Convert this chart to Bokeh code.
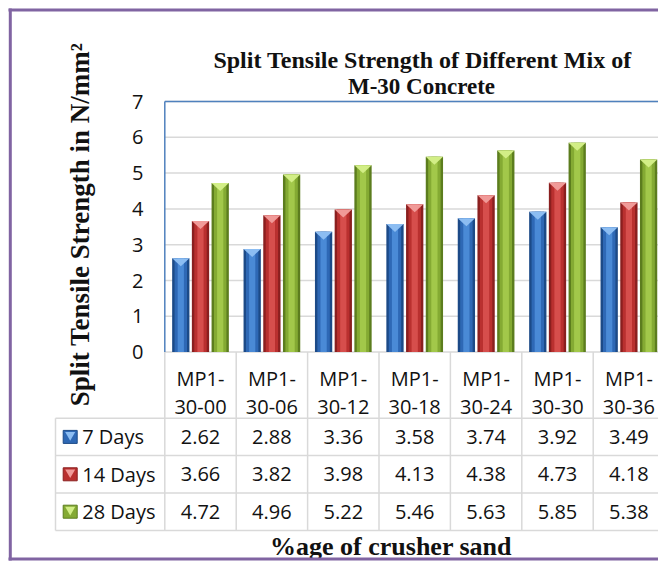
import math
from bokeh.plotting import figure
from bokeh.models import Range1d, ColumnDataSource
from bokeh.embed import file_html
from bokeh.resources import INLINE
from bokeh.core.properties import value

# ---- data ----
categories = ["MP1-30-00", "MP1-30-06", "MP1-30-12", "MP1-30-18",
              "MP1-30-24", "MP1-30-30", "MP1-30-36"]
series_names = ["7 Days", "14 Days", "28 Days"]
days_7 = [2.62, 2.88, 3.36, 3.58, 3.74, 3.92, 3.49]
days_14 = [3.66, 3.82, 3.98, 4.13, 4.38, 4.73, 4.18]
days_28 = [4.72, 4.96, 5.22, 5.46, 5.63, 5.85, 5.38]
y_ticks = [0, 1, 2, 3, 4, 5, 6, 7]
title_lines = ["Split Tensile Strength of Different Mix of", "M-30 Concrete"]
y_title = "Split Tensile Strength in N/mm\u00b2"
x_title = "%age of crusher sand"

series_values = [days_7, days_14, days_28]

# ---- styles ----
PURPLE = "#8064A2"
FRAME_BLUE = "#4F81BD"
GRID = "#D9D9D9"
TEXT = "#111111"
palettes = [
    dict(edge="#1C4A87", mid="#2E68B5", light="#4A8AD6", top="#8CBDF2"),
    dict(edge="#8A1F1F", mid="#B9302F", light="#D64E4C", top="#F09A98"),
    dict(edge="#5C7D1E", mid="#84AA33", light="#A2C84A", top="#D2EE86"),
]
SANS = "Open Sans"
SERIF = "Liberation Serif"

# ---- layout geometry (canvas pixels -> data units) ----
W, H = 658, 561
PX_X0, PX_PER_CAT = 164.3, 71.4     # x of category 0 boundary, width of one category
PX_Y0, PX_PER_UNIT = 351.6, 35.8    # y of value 0, pixels per N/mm2


def dx(px):
    return (px - PX_X0) / PX_PER_CAT


def dy(py):
    return (PX_Y0 - py) / PX_PER_UNIT


n = len(categories)
centers = [i + 0.5 for i in range(n)]
bar_w = 0.242
offsets = [-0.276, 0.0, 0.276]
tip = 8 / PX_PER_UNIT
x_end = dx(W)
y_top = y_ticks[-1]

p = figure(width=W, height=H, x_range=Range1d(dx(0), dx(W)), y_range=Range1d(dy(H), dy(0)),
           output_backend="svg", toolbar_location=None, x_axis_type=None, y_axis_type=None,
           min_border=0, min_border_left=0, min_border_right=0, min_border_top=0,
           min_border_bottom=0)
p.outline_line_color = None
p.background_fill_color = "white"
p.border_fill_color = "white"
p.grid.visible = False


def txt(x, y, t, size, font=SANS, align="center", baseline="middle", style="normal", angle=0.0):
    p.text(x=x, y=y, text=t, text_font=value(font), text_font_size=size, text_align=align,
           text_baseline=baseline, text_font_style=style, text_color=TEXT, angle=angle)


# gridlines and plot frame
p.segment(x0=[0] * len(y_ticks), y0=y_ticks, x1=[x_end] * len(y_ticks), y1=y_ticks,
          line_color=GRID, line_width=1.5)
p.segment(x0=[0, 0], y0=[0, y_top], x1=[0, x_end], y1=[y_top, y_top],
          line_color=FRAME_BLUE, line_width=1.5)

# bars
for s, (vals, pal) in enumerate(zip(series_values, palettes)):
    xs = [c + offsets[s] for c in centers]
    src = ColumnDataSource(dict(x=xs, top=vals))
    p.vbar(x="x", top="top", bottom=0, width=bar_w, source=src,
           fill_color=pal["edge"], line_color=None)
    p.vbar(x="x", top="top", bottom=0, width=bar_w * 0.72, source=src,
           fill_color=pal["mid"], line_color=None)
    p.vbar(x="x", top="top", bottom=0, width=bar_w * 0.36, source=src,
           fill_color=pal["light"], line_color=None)
    tri_x = [[x - bar_w / 2, x + bar_w / 2, x] for x in xs]
    tri_y = [[v, v, v - tip] for v in vals]
    p.patches(tri_x, tri_y, fill_color=pal["top"], line_color=None)

# y tick labels and y title
txt([dx(143)] * len(y_ticks), y_ticks, [str(t) for t in y_ticks], "20px", align="right")
txt([dx(79)], [dy(224)], [y_title], "27px", font=SERIF, style="bold", angle=math.pi / 2)

# chart title
txt([dx(422)], [dy(59)], [title_lines[0]], "24px", font=SERIF, style="bold",
    baseline="alphabetic")
txt([dx(421)], [dy(86)], [title_lines[1]], "23px", font=SERIF, style="bold",
    baseline="alphabetic")

# data table
hdr_bottom = dy(417.7)
row_h = 37.4 / PX_PER_UNIT
row_lines = [hdr_bottom - k * row_h for k in range(len(series_names) + 1)]
tbl_left = dx(55)
tbl_bottom = row_lines[-1]

p.segment(x0=list(range(n + 1)), y0=[0] * (n + 1), x1=list(range(n + 1)),
          y1=[tbl_bottom] * (n + 1), line_color=GRID, line_width=1.5)
p.segment(x0=[tbl_left], y0=[hdr_bottom], x1=[tbl_left], y1=[tbl_bottom],
          line_color=GRID, line_width=1.5)
p.segment(x0=[tbl_left] * len(row_lines), y0=row_lines, x1=[n] * len(row_lines), y1=row_lines,
          line_color=GRID, line_width=1.5)

cat_line1 = [c[:4] for c in categories]
cat_line2 = [c[4:] for c in categories]
txt(centers, [dy(378)] * n, cat_line1, "20px", baseline="alphabetic")
txt(centers, [dy(406)] * n, cat_line2, "20px", baseline="alphabetic")

key_x = dx(69.7)
for k, (name, vals, pal) in enumerate(zip(series_names, series_values, palettes)):
    ry = hdr_bottom - (k + 0.5) * row_h
    p.rect(x=[key_x], y=[ry], width=14, height=13, width_units="screen", height_units="screen",
           fill_color=pal["mid"], line_color=pal["edge"], line_width=1)
    p.scatter(x=[key_x], y=[ry + 2 / PX_PER_UNIT], marker="inverted_triangle", size=10,
              fill_color=pal["top"], line_color=None)
    txt([dx(81.7)], [ry], [name], "20px", align="left")
    txt(centers, [ry] * n, [f"{v:.2f}" for v in vals], "20px")

# x title
txt([dx(390.5)], [dy(546)], [x_title], "26px", font=SERIF, style="bold",
    baseline="alphabetic")

# outer purple frame (left, top, bottom; right side is cut off)
p.segment(x0=[dx(9.8), dx(8), dx(8)], y0=[dy(8), dy(9.5), dy(558.5)],
          x1=[dx(9.8), dx(W), dx(W)], y1=[dy(560), dy(9.5), dy(558.5)],
          line_color=PURPLE, line_width=3)

open("out.html", "w").write(file_html(p, INLINE))
